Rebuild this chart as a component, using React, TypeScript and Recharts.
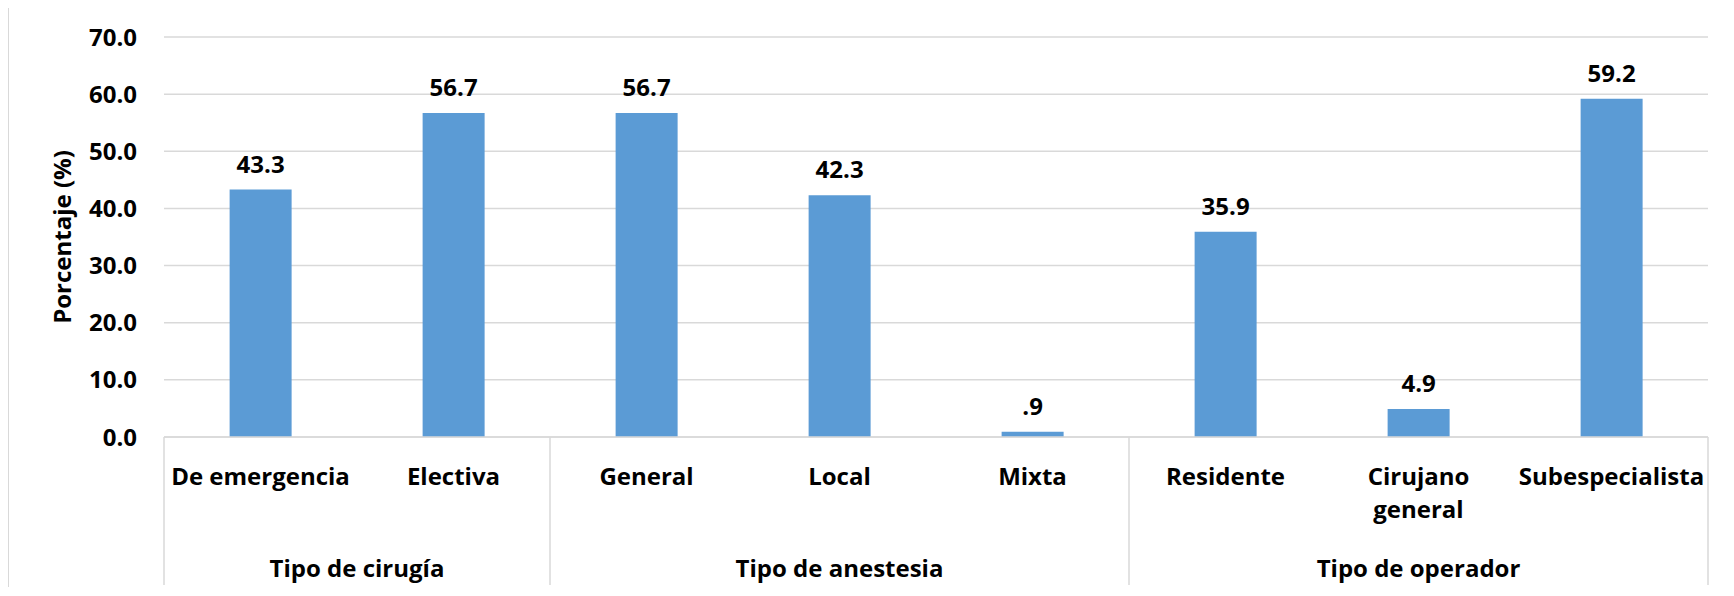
import React from 'react';
import {BarChart, Bar, XAxis, YAxis, CartesianGrid, LabelList} from 'recharts';

const categorias = ['De emergencia', 'Electiva', 'General', 'Local', 'Mixta', 'Residente', 'Cirujano general', 'Subespecialista'];
const porcentajes = [43.3, 56.7, 56.7, 42.3, 0.9, 35.9, 4.9, 59.2];
const grupos = ['Tipo de cirugía', 'Tipo de anestesia', 'Tipo de operador'];
const grupoDeCategoria = [0, 0, 1, 1, 1, 2, 2, 2];
const ticksY = [0, 10, 20, 30, 40, 50, 60, 70];

const datos = categorias.map((c, i) => ({categoria: c, valor: porcentajes[i]}));

const W = 1717;
const H = 580;
const margin = {top: 30, right: 18, left: 0, bottom: 0};
const ANCHO_Y = 155;
const ALTO_X = 150;
const band = (W - margin.left - margin.right - ANCHO_Y) / categorias.length;

const FUENTE = '"Open Sans", sans-serif';
const GRIS = '#d9d9d9';
const textoBase = {fontFamily: FUENTE, fontWeight: 700, fontSize: 24, fill: '#000'};

const fmtValor = (v: any) => {
    const s = Number(v).toFixed(1);
    return s.startsWith('0.') ? s.slice(1) : s;
};

// etiqueta de categoria + separadores y nombre del grupo
const CategoriaTick = (props: any) => {
    const {x, y, payload, index} = props;
    const etiqueta = String(payload.value);
    const corte = etiqueta.lastIndexOf(' ');
    const lineas = etiqueta.length > 14 && corte > 0
        ? [etiqueta.slice(0, corte), etiqueta.slice(corte + 1)]
        : [etiqueta];
    const g = grupoDeCategoria[index];
    const primero = index === 0 || grupoDeCategoria[index - 1] !== g;
    const ultimo = index === categorias.length - 1;
    const tam = grupoDeCategoria.filter(v => v === g).length;
    const izq = x - band / 2;
    return (
        <g>
            {lineas.map((l, i) => (
                <text key={i} x={x} y={y + 48 + i * 33} textAnchor="middle" {...textoBase}>{l}</text>
            ))}
            {primero && <line x1={izq} x2={izq} y1={y} y2={y + 148} stroke={GRIS} strokeWidth={1.5}/>}
            {primero && (
                <text x={izq + tam * band / 2} y={y + 140} textAnchor="middle" {...textoBase}>{grupos[g]}</text>
            )}
            {ultimo && <line x1={x + band / 2} x2={x + band / 2} y1={y} y2={y + 148} stroke={GRIS} strokeWidth={1.5}/>}
        </g>
    );
};

const EtiquetaY = (props: any) => {
    const vb = props.viewBox;
    const cx = 52;
    const cy = vb.y + vb.height / 2;
    return (
        <text x={cx} y={cy} transform={`rotate(-90, ${cx}, ${cy})`} textAnchor="middle"
              dominantBaseline="central" {...textoBase}>
            Porcentaje (%)
        </text>
    );
};

export default function App() {
    return (
        <div style={{
            marginTop: -2, width: 1718, overflow: 'hidden',
            borderTop: `1px solid ${GRIS}`, borderLeft: `1px solid ${GRIS}`, background: '#fff'
        }}>
            <BarChart width={W} height={H} data={datos} margin={margin} barCategoryGap="34%">
                <CartesianGrid vertical={false} stroke={GRIS} strokeWidth={1.5}/>
                <XAxis dataKey="categoria" height={ALTO_X} interval={0} tickLine={false} tickSize={0} tickMargin={0}
                       axisLine={{stroke: GRIS, strokeWidth: 1.5}} tick={<CategoriaTick/>}/>
                <YAxis width={ANCHO_Y} domain={[0, 70]} ticks={ticksY} axisLine={false} tickLine={false}
                       tickSize={0} tickMargin={27} tickFormatter={(v: number) => v.toFixed(1)}
                       tick={{...textoBase}} label={EtiquetaY}/>
                <Bar dataKey="valor" fill="#5b9bd5" isAnimationActive={false}>
                    <LabelList dataKey="valor" position="top" offset={17} formatter={fmtValor} {...textoBase}/>
                </Bar>
            </BarChart>
        </div>
    );
}
